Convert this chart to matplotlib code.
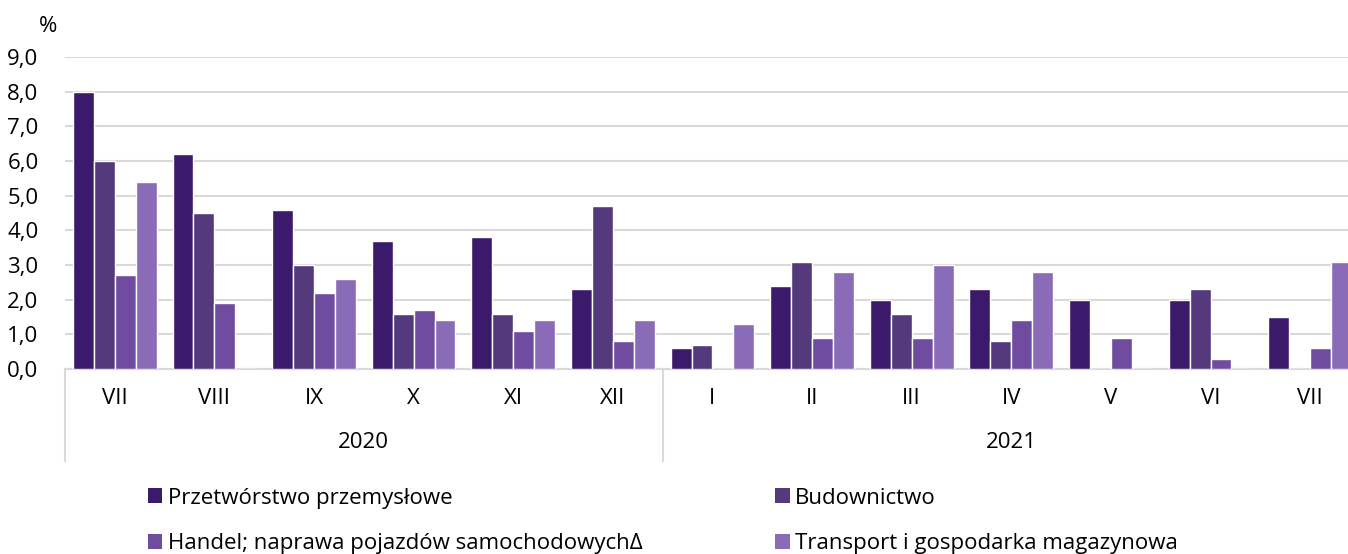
import numpy as np
import matplotlib.pyplot as plt
from matplotlib.patches import Patch

plt.rcParams['font.family'] = ['Open Sans', 'DejaVu Sans']

### Dane
miesiace = ['VII', 'VIII', 'IX', 'X', 'XI', 'XII', 'I', 'II', 'III', 'IV', 'V', 'VI', 'VII']
lata = ['2020', '2021']
przetworstwo = [8.0, 6.2, 4.6, 3.7, 3.8, 2.3, 0.6, 2.4, 2.0, 2.3, 2.0, 2.0, 1.5]
budownictwo = [6.0, 4.5, 3.0, 1.6, 1.6, 4.7, 0.7, 3.1, 1.6, 0.8, 0.0, 2.3, 0.0]
handel = [2.7, 1.9, 2.2, 1.7, 1.1, 0.8, 0.0, 0.9, 0.9, 1.4, 0.9, 0.3, 0.6]
transport = [5.4, 0.0, 2.6, 1.4, 1.4, 1.4, 1.3, 2.8, 3.0, 2.8, 0.0, 0.0, 3.1]

serie = [przetworstwo, budownictwo, handel, transport]
etykiety = ['Przetwórstwo przemysłowe', 'Budownictwo',
            'Handel; naprawa pojazdów samochodowychΔ', 'Transport i gospodarka magazynowa']
kolory = ['#3c1a6b', '#543a7c', '#6f4c9f', '#8a6bb8']
fs = 16

fig = plt.figure(figsize=(13.48, 5.54), dpi=100)
# prawa krawedz wykresu wychodzi poza obraz (jak w oryginale)
ax = fig.add_axes([0.0482, 0.334, 0.9607, 0.563])

x = np.arange(len(miesiace))
szer = 0.21
for k, (s, c) in enumerate(zip(serie, kolory)):
    ax.bar(x + (k - 1.5) * szer, s, width=szer, color=c, edgecolor='white', linewidth=1, zorder=3)

ax.set_xlim(-0.5, len(miesiace) - 0.5)
ax.set_ylim(0, 9)
ax.set_yticks(np.arange(0, 10, 1))
ax.set_yticklabels([f'{v:.1f}'.replace('.', ',') for v in np.arange(0, 10, 1)], fontsize=fs)
ax.yaxis.grid(True, color='#d9d9d9', linewidth=1.5, zorder=0)
ax.tick_params(axis='y', length=0, pad=19)
ax.tick_params(axis='x', length=0, pad=14, labelsize=fs)
ax.set_xticks(x)
ax.set_xticklabels(miesiace)
for sp in ['top', 'right', 'left']:
    ax.spines[sp].set_visible(False)
ax.spines['bottom'].set_color('#d9d9d9')
ax.spines['bottom'].set_linewidth(1.5)

# separatory lat
tr = ax.get_xaxis_transform()
for xs in [-0.5, 5.5, 12.5]:
    ax.plot([xs, xs], [0, -0.295], transform=tr, color='#d9d9d9', linewidth=1.5, clip_on=False)
ax.text(2.5, -0.237, lata[0], transform=tr, ha='center', va='center', fontsize=fs)
ax.text(9.0, -0.237, lata[1], transform=tr, ha='center', va='center', fontsize=fs)

fig.text(0.0356, 0.952, '%', ha='center', va='center', fontsize=fs)

# legenda - dwie kolumny
uchwyty = [Patch(facecolor=c) for c in kolory]
for kol, x0 in [(0, 0.1098), (1, 0.575)]:
    idx = [kol, kol + 2]
    fig.legend([uchwyty[i] for i in idx], [etykiety[i] for i in idx],
               loc='upper left', bbox_to_anchor=(x0, 0.12), frameon=False,
               fontsize=fs, handlelength=0.65, handleheight=0.65, handletextpad=0.25,
               labelspacing=1.1, borderaxespad=0, borderpad=0)

fig.savefig('out.png', dpi=100)
